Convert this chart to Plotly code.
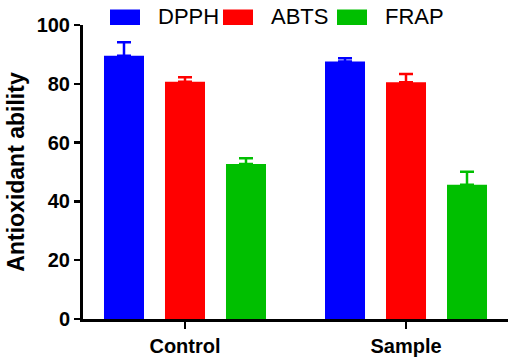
import plotly.graph_objects as go

categories = ["Control", "Sample"]
series_names = ["DPPH", "ABTS", "FRAP"]
dpph = [89.5, 87.6]
abts = [80.7, 80.5]
frap = [52.7, 45.7]
dpph_err = [4.6, 1.1]
abts_err = [1.5, 2.8]
frap_err = [2.0, 4.4]
y_ticks = [0, 20, 40, 60, 80, 100]

colors = ["#0000FF", "#FF0000", "#00BF00"]
values = [dpph, abts, frap]
errors = [dpph_err, abts_err, frap_err]

FONT = "Liberation Sans, Arial, Helvetica, sans-serif"
W, H = 515, 359
ML, MR, MT, MB = 83, 7, 25, 40
PW, PH = W - ML - MR, H - MT - MB

fig = go.Figure()
for name, vals, errs, col in zip(series_names, values, errors, colors):
    fig.add_trace(go.Bar(
        name=name, x=categories, y=vals, marker=dict(color=col, line=dict(width=0)),
        error_y=dict(type="data", array=errs, arrayminus=[0] * len(errs), symmetric=False,
                     color=col, thickness=2.5, width=7),
        showlegend=False,
    ))

# custom legend (large swatches as in the reference); positions in pixels
def px_x(px):
    return (px - ML) / PW

def px_y(py):
    return (H - MB - py) / PH

shapes = []
annotations = []
legend_x0 = [110, 223, 337]
for x0, name, col in zip(legend_x0, series_names, colors):
    shapes.append(dict(type="rect", xref="paper", yref="paper",
                       x0=px_x(x0), x1=px_x(x0 + 30), y0=px_y(25), y1=px_y(9.5),
                       fillcolor=col, line=dict(width=0), layer="above"))
    annotations.append(dict(xref="paper", yref="paper", x=px_x(x0 + 46), y=px_y(17),
                            text=name, showarrow=False, xanchor="left", yanchor="middle",
                            font=dict(family=FONT, size=22, color="black")))

fig.update_layout(
    width=W, height=H,
    margin=dict(l=ML, r=MR, t=MT, b=MB, pad=0, autoexpand=False),
    paper_bgcolor="white", plot_bgcolor="white",
    barmode="group", bargap=0.172, bargroupgap=0.344,
    shapes=shapes, annotations=annotations,
    font=dict(family=FONT, color="black"),
    hovermode=False,
    xaxis=dict(range=[-0.4615, 1.4615], showline=True, linecolor="black", linewidth=3,
               ticks="outside", ticklen=7, tickwidth=2.5, tickcolor="black",
               showgrid=False, zeroline=False, automargin=False,
               tickfont=dict(family=FONT, size=20, color="black", weight="bold")),
    yaxis=dict(range=[0, 100], tickvals=y_ticks, showline=True, linecolor="black", linewidth=3,
               ticks="outside", ticklen=6, tickwidth=2.5, tickcolor="black",
               showgrid=False, zeroline=False, automargin=False,
               tickfont=dict(family=FONT, size=20, color="black", weight="bold"),
               title=dict(text="<b>Antioxidant ability</b>", standoff=6,
                          font=dict(family=FONT, size=23, color="black"))),
)

# remove the page's default 8px body margin so the figure fills the window exactly
fig.write_html("out.html",
               config={"displayModeBar": False, "staticPlot": True},
               post_script="document.body.style.margin='0';document.body.style.overflow='hidden';")
